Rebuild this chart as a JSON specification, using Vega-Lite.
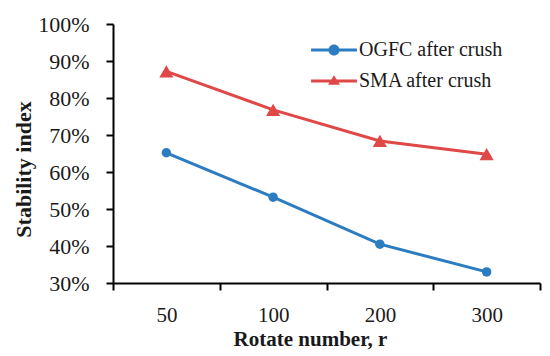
{
  "$schema": "https://vega.github.io/schema/vega-lite/v6.json",
  "autosize": {"type": "none"},
  "width": 427,
  "height": 259,
  "padding": {"left": 113, "top": 24, "right": 10, "bottom": 73},
  "background": "white",
  "config": {
    "view": {"stroke": null},
    "font": "Liberation Serif",
    "axis": {
      "domainColor": "#000000",
      "domainWidth": 2,
      "tickColor": "#000000",
      "tickWidth": 2,
      "tickSize": 7,
      "grid": false,
      "labelFont": "Liberation Serif",
      "labelFontSize": 22,
      "labelColor": "#1a1a1a",
      "titleFont": "Liberation Serif",
      "titleFontSize": 22,
      "titleFontWeight": "bold",
      "titleColor": "#1a1a1a"
    }
  },
  "data": {
    "values": [
      {"r": "50", "series": "OGFC after crush", "v": 0.652},
      {"r": "100", "series": "OGFC after crush", "v": 0.532},
      {"r": "200", "series": "OGFC after crush", "v": 0.405},
      {"r": "300", "series": "OGFC after crush", "v": 0.330},
      {"r": "50", "series": "SMA after crush", "v": 0.872},
      {"r": "100", "series": "SMA after crush", "v": 0.768},
      {"r": "200", "series": "SMA after crush", "v": 0.684},
      {"r": "300", "series": "SMA after crush", "v": 0.648}
    ]
  },
  "encoding": {
    "x": {
      "field": "r",
      "type": "ordinal",
      "sort": ["50", "100", "200", "300"],
      "scale": {"type": "band", "paddingInner": 0, "paddingOuter": 0},
      "axis": {
        "title": "Rotate number, r",
        "labelAngle": 0,
        "tickBand": "extent",
        "labelPadding": 31,
        "labelBaseline": "alphabetic",
        "labelFontSize": 21,
        "titleX": 197,
        "titleY": 62,
        "titleFontSize": 21,
        "titleBaseline": "alphabetic",
        "titleAnchor": null
      }
    },
    "y": {
      "field": "v",
      "type": "quantitative",
      "scale": {"domain": [0.3, 1.0], "nice": false, "zero": false},
      "axis": {
        "title": "Stability index",
        "format": ".0%",
        "values": [0.3, 0.4, 0.5, 0.6, 0.7, 0.8, 0.9, 1.0],
        "labelPadding": 17,
        "titleX": -90,
        "titleY": 145,
        "titleAngle": -90,
        "titleBaseline": "middle",
        "titleAnchor": null
      }
    },
    "color": {
      "field": "series",
      "type": "nominal",
      "scale": {"domain": ["OGFC after crush", "SMA after crush"], "range": ["#2b7cc1", "#e04848"]},
      "legend": {
        "orient": "none",
        "legendX": 206,
        "legendY": 11,
        "padding": 0,
        "title": null,
        "symbolSize": 900,
        "symbolStrokeWidth": 0,
        "labelOffset": 10,
        "rowPadding": 6,
        "labelFont": "Liberation Serif",
        "labelFontSize": 20,
        "labelColor": "#1a1a1a",
        "labelLimit": 300,
        "encode": {
          "symbols": {
            "update": {
              "shape": {"signal": "datum.value === 'OGFC after crush' ? 'M-1.53,-0.1H1.53V0.1H-1.53ZM-0.37,0A0.37,0.37,0,1,1,0.37,0A0.37,0.37,0,1,1,-0.37,0Z' : 'M-1.53,-0.1H1.53V0.1H-1.53ZM-0.4,0.25L0,-0.38L0.4,0.25Z'"},
              "fill": {"signal": "scale('color', datum.value)"},
              "stroke": {"value": "transparent"},
              "strokeWidth": {"value": 0},
              "opacity": {"value": 1},
              "fillOpacity": {"value": 1}
            }
          }
        }
      }
    }
  },
  "layer": [
    {
      "mark": {"type": "line", "strokeWidth": 3},
      "encoding": {"detail": {"field": "series"}}
    },
    {
      "transform": [{"filter": "datum.series === 'OGFC after crush'"}],
      "mark": {"type": "point", "shape": "circle", "filled": true, "opacity": 1, "size": 90}
    },
    {
      "transform": [{"filter": "datum.series === 'SMA after crush'"}],
      "mark": {"type": "point", "shape": "triangle-up", "filled": true, "opacity": 1, "size": 200}
    }
  ]
}
